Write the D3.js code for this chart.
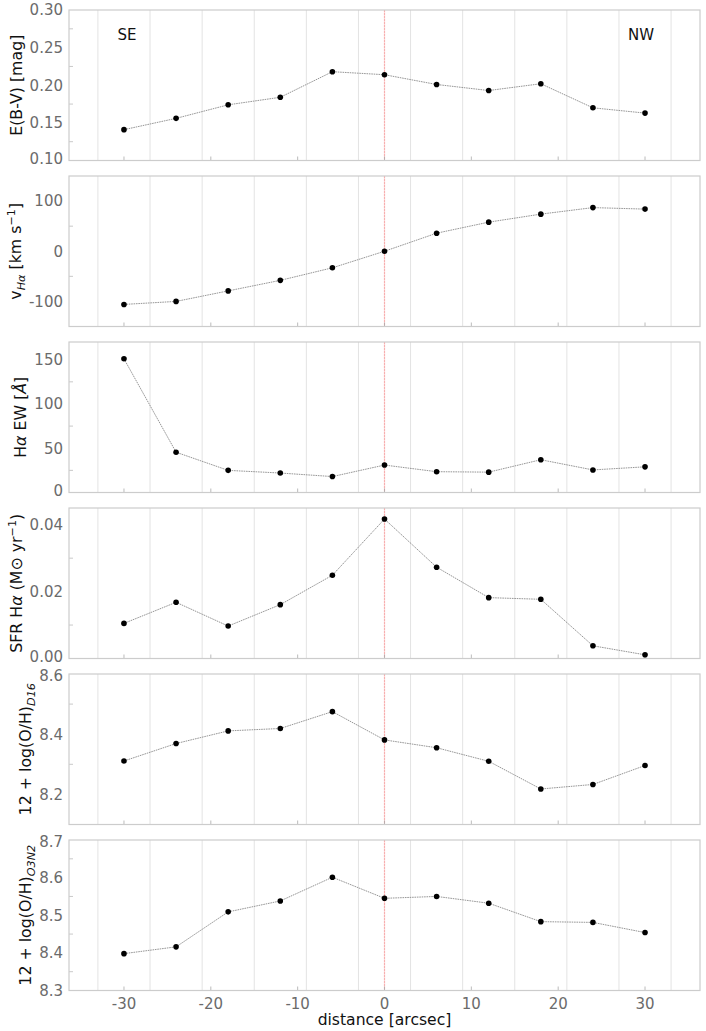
<!DOCTYPE html>
<html><head><meta charset="utf-8">
<script src="https://cdn.jsdelivr.net/npm/d3@7"></script>
<style>
html,body{margin:0;padding:0;background:#fff;}
svg{display:block;font-family:"DejaVu Sans",sans-serif;}
</style></head>
<body>
<svg id="chart" width="706" height="1031"></svg>
<script>
const distance = [-30, -24, -18, -12, -6, 0, 6, 12, 18, 24, 30];
const ebv  = [0.141, 0.156, 0.174, 0.184, 0.218, 0.214, 0.201, 0.193, 0.202, 0.170, 0.163];
const vHa  = [-106, -100, -79, -58, -33, 0, 36, 58, 74, 87, 84];
const ewHa = [151, 45.5, 25, 22, 18, 31, 23.5, 23, 37, 25.5, 29];
const sfrHa = [0.0105, 0.0168, 0.0097, 0.0161, 0.0249, 0.0417, 0.0273, 0.0182, 0.0177, 0.0038, 0.0011];
const ohD16 = [8.311, 8.369, 8.411, 8.419, 8.475, 8.381, 8.355, 8.31, 8.218, 8.233, 8.296];
const ohO3N2 = [8.398, 8.416, 8.509, 8.538, 8.601, 8.545, 8.55, 8.532, 8.483, 8.481, 8.454];
const xTicks = [-30, -20, -10, 0, 10, 20, 30];
const xGrid = [-33, -27, -21, -15, -9, -3, 3, 9, 15, 21, 27, 33];
const sideLabels = ["SE", "NW"];

const panels = [
  {values: ebv,   domain: [0.10, 0.30], ticks: [0.10,0.15,0.20,0.25,0.30], minor: [0.125,0.175,0.225,0.275], dec: 2,
   label: [["E(B-V) [mag]"]]},
  {values: vHa,   domain: [-150, 150], ticks: [-100,0,100], minor: [-50,50], dec: 0,
   label: [["v"],["Hα","sub","i"],[" [km s"],["−1","sup"],["]"]]},
  {values: ewHa,  domain: [0, 170], ticks: [0,50,100,150], minor: [25,75,125], dec: 0,
   label: [["H"],["α","","i"],[" EW ["],["Å","","i"],["]"]]},
  {values: sfrHa, domain: [0, 0.045], ticks: [0,0.02,0.04], minor: [0.01,0.03], dec: 2,
   label: [["SFR H"],["α","","i"],[" (M⊙ yr"],["−1","sup"],[")"]]},
  {values: ohD16, domain: [8.1, 8.6], ticks: [8.2,8.4,8.6], minor: [8.3,8.5], dec: 1,
   label: [["12 + log(O/H)"],["D16","sub","i"]]},
  {values: ohO3N2, domain: [8.3, 8.7], ticks: [8.3,8.4,8.5,8.6,8.7], minor: [8.35,8.45,8.55,8.65], dec: 1,
   label: [["12 + log(O/H)"],["O3N2","sub","i"]]}
];

const svg = d3.select("#chart");
const left = 69, right = 700;
const x = d3.scaleLinear().domain([-36.33, 36.33]).range([left, right]);
const fmt = (v, d) => v.toFixed(d);

panels.forEach((p, i) => {
  const top = 10 + i * 166, bottom = top + 150.5;
  const y = d3.scaleLinear().domain(p.domain).range([bottom, top]);
  const g = svg.append("g");
  g.selectAll("line.grid").data(xGrid).enter().append("line")
    .attr("x1", d => x(d)).attr("x2", d => x(d)).attr("y1", top).attr("y2", bottom)
    .attr("stroke", "#e3e3e3").attr("stroke-width", 1);
  g.append("line").attr("x1", x(0)).attr("x2", x(0)).attr("y1", top).attr("y2", bottom)
    .attr("stroke", "#f7b0b0").attr("stroke-width", 1.2).attr("stroke-dasharray", "2.4,0.6");
  g.selectAll("line.xt").data(xTicks).enter().append("line")
    .attr("x1", d => x(d)).attr("x2", d => x(d)).attr("y1", bottom).attr("y2", bottom - 4)
    .attr("stroke", "#aaa").attr("stroke-width", 0.8);
  g.selectAll("line.yt").data(p.minor).enter().append("line")
    .attr("x1", left).attr("x2", left + 4).attr("y1", d => y(d)).attr("y2", d => y(d))
    .attr("stroke", "#bbb").attr("stroke-width", 0.8);
  g.append("rect").attr("x", left).attr("y", top).attr("width", right - left).attr("height", bottom - top)
    .attr("fill", "none").attr("stroke", "#cccccc").attr("stroke-width", 1.2);
  const nudge = d => (Math.abs(y(d) - bottom) < 1 && i < panels.length - 1) ? -1.5
                   : (Math.abs(y(d) - top) < 1 && i > 0) ? 1.5 : 0;
  const tl = g.selectAll("text.yl").data(p.ticks).enter().append("text")
    .attr("x", left - 6).attr("y", d => y(d) + nudge(d)).attr("dy", "0.36em")
    .attr("text-anchor", "end").attr("font-size", 15).attr("fill", "#6b6b6b")
    .text(d => fmt(d, p.dec));
  let minX = Infinity;
  tl.each(function(){ minX = Math.min(minX, this.getBBox().x); });
  const line = d3.line().x((d, j) => x(distance[j])).y(d => y(d));
  g.append("path").datum(p.values).attr("d", line)
    .attr("fill", "none").attr("stroke", "#8a8a8a").attr("stroke-width", 0.9).attr("stroke-dasharray", "1.6,0.8");
  g.selectAll("circle").data(p.values).enter().append("circle")
    .attr("cx", (d, j) => x(distance[j])).attr("cy", d => y(d)).attr("r", 2.8).attr("fill", "#000");
  const cy = (top + bottom) / 2;
  const lab = g.append("text").attr("transform", `translate(${minX - 8},${cy}) rotate(-90)`)
    .attr("text-anchor", "middle").attr("font-size", 15.8).attr("fill", "#111");
  let shift = 0;
  p.label.forEach(([t, kind, style]) => {
    const ts = lab.append("tspan").text(t);
    if (style === "i") ts.attr("font-style", "italic");
    let target = 0;
    if (kind === "sub") { target = 4; ts.attr("font-size", 11.2); }
    else if (kind === "sup") { target = -6; ts.attr("font-size", 11.2); }
    if (target !== shift) { ts.attr("dy", target - shift); shift = target; }
  });
  if (i === 0) {
    g.append("text").attr("x", x(-30) + 3).attr("y", top + 30).attr("text-anchor", "middle")
      .attr("font-size", 15).attr("fill", "#111").text(sideLabels[0]);
    g.append("text").attr("x", x(30) - 4).attr("y", top + 30).attr("text-anchor", "middle")
      .attr("font-size", 15).attr("fill", "#111").text(sideLabels[1]);
  }
  if (i === panels.length - 1) {
    g.selectAll("text.xl").data(xTicks).enter().append("text")
      .attr("x", d => x(d)).attr("y", 1008.5).attr("text-anchor", "middle")
      .attr("font-size", 15).attr("fill", "#6b6b6b").text(d => fmt(d, 0));
    g.append("text").attr("x", (left + right) / 2).attr("y", 1025).attr("text-anchor", "middle")
      .attr("font-size", 15.6).attr("fill", "#111").text("distance [arcsec]");
  }
});
</script>
</body></html>
